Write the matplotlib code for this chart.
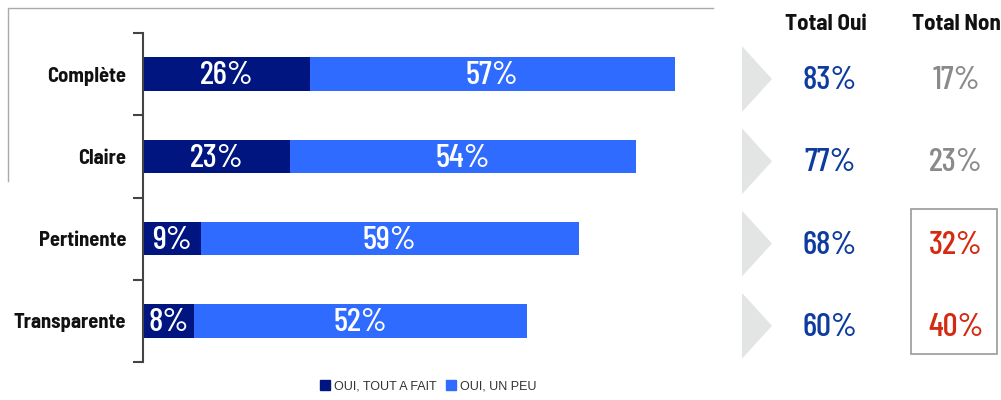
import numpy as np
import matplotlib
matplotlib.use("Agg")
import matplotlib.pyplot as plt
from matplotlib.patches import Polygon, Rectangle, Patch
from matplotlib.lines import Line2D

# data
categories = ["Complète", "Claire", "Pertinente", "Transparente"]
tout_a_fait = [26, 23, 9, 8]
un_peu = [57, 54, 59, 52]
series_names = ["OUI, TOUT A FAIT", "OUI, UN PEU"]
highlight_non = [False, False, True, True]

total_oui = [a + b for a, b in zip(tout_a_fait, un_peu)]
total_non = [100 - t for t in total_oui]

NAVY = "#001580"
BLUE = "#2F6BFF"
OUI_COL = "#0D3C9E"
NON_GREY = "#8A8A8A"
NON_RED = "#D42A10"

plt.rcParams["font.family"] = ["Barlow Semi Condensed", "DejaVu Sans"]
num_font = ["Barlow Condensed", "DejaVu Sans"]

W, H = 1001, 400
fig = plt.figure(figsize=(W / 100, H / 100), dpi=100)

def box(x0, y0, x1, y1):
    # pixel box (top-left origin) -> figure fraction
    return [x0 / W, 1 - y1 / H, (x1 - x0) / W, (y1 - y0) / H]

ax = fig.add_axes(box(143, 33, 713, 362))
y = np.arange(len(categories))
bh = 0.41
ax.barh(y, tout_a_fait, height=bh, color=NAVY)
ax.barh(y, un_peu, left=tout_a_fait, height=bh, color=BLUE)
for i in range(len(categories)):
    ax.text(tout_a_fait[i] / 2, y[i] + 0.02, f"{tout_a_fait[i]}%", color="white",
            ha="center", va="center", fontsize=24, fontweight=500, family=num_font)
    ax.text(tout_a_fait[i] + un_peu[i] / 2, y[i] + 0.02, f"{un_peu[i]}%", color="white",
            ha="center", va="center", fontsize=24, fontweight=500, family=num_font)

ax.set_xlim(0, 89)
ax.set_ylim(len(categories) - 0.5, -0.5)
for s in ["top", "right", "bottom"]:
    ax.spines[s].set_visible(False)
ax.spines["left"].set_color("#444444")
ax.spines["left"].set_linewidth(1.5)
ax.set_xticks([])
ax.set_yticks(y)
ax.set_yticklabels(categories, fontsize=14.8, fontweight="bold", color="#111111")
ax.tick_params(axis="y", which="major", length=0, pad=12)
ax.set_yticks(np.arange(len(categories) + 1) - 0.5, minor=True)
ax.tick_params(axis="y", which="minor", length=7, width=1.5, color="#444444")

# right panel with totals
ax2 = fig.add_axes(box(720, 33, 1001, 362))
ax2.set_xlim(0, 281)
ax2.set_ylim(len(categories) - 0.5, -0.5)
ax2.axis("off")
off = 0.06
for i in range(len(categories)):
    c = y[i] + off
    ax2.add_patch(Polygon([(22, c - 0.4), (52, c), (22, c + 0.4)],
                          closed=True, color="#E3E4E4", lw=0, clip_on=False))
    ax2.text(110, c + 0.02, f"{total_oui[i]}%", color=OUI_COL, ha="center", va="center",
             fontsize=24, fontweight=500, family=num_font)
    ax2.text(236, c + 0.02, f"{total_non[i]}%",
             color=NON_RED if highlight_non[i] else NON_GREY,
             ha="center", va="center", fontsize=24, fontweight=500, family=num_font)

ax2.text(106, -0.61, "Total Oui", ha="center", va="center", fontsize=16.5,
         fontweight="bold", color="#111111", clip_on=False)
ax2.text(236, -0.61, "Total Non", ha="center", va="center", fontsize=16.5,
         fontweight="bold", color="#111111", clip_on=False)
ax2.add_patch(Rectangle((191, 1.64), 86, 1.76, fill=False, ec="#999999", lw=1.2,
                        clip_on=False))

# thin grey frame fragment top-left
fig.add_artist(Line2D([8 / W, 8 / W, 713 / W], [1 - 181 / H, 1 - 8 / H, 1 - 8 / H],
                      color="#AAAAAA", lw=1))

handles = [Patch(color=NAVY), Patch(color=BLUE)]
fig.legend(handles, series_names, loc="center", bbox_to_anchor=(0.428, 0.035),
           ncol=2, frameon=False, handlelength=0.8, handleheight=0.8,
           handletextpad=0.3, columnspacing=0.8,
           prop={"family": ["Liberation Sans", "DejaVu Sans"], "size": 9},
           labelcolor="#333333")

fig.savefig("out.png", dpi=100)
